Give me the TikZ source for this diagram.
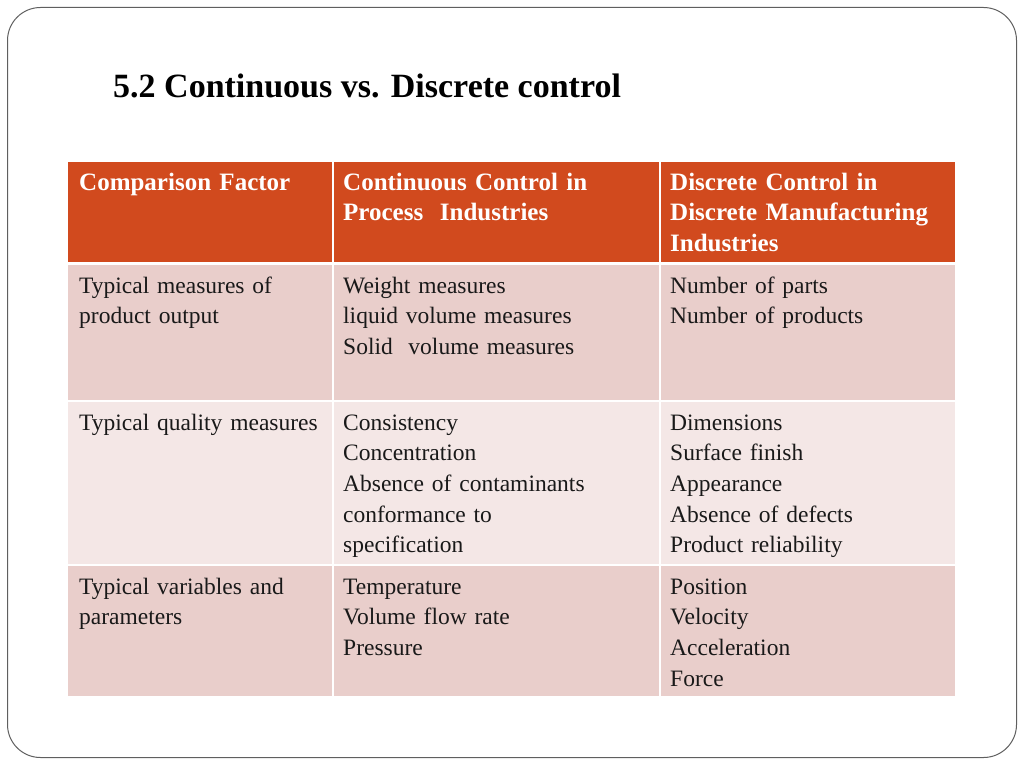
\documentclass[tikz,border=0pt]{standalone}
\usepackage{fontspec}
\setmainfont{Liberation Serif}
\usepackage{tikz}

\definecolor{headred}{HTML}{D14A1E}
\definecolor{rowdark}{HTML}{E9CECB}
\definecolor{rowlight}{HTML}{F4E7E6}
\definecolor{frame}{HTML}{5F5F5F}

\tikzset{
    cell/.style={anchor=base west, inner sep=0pt, text width=300pt, align=left,
        font=\fontsize{23.5}{30.7}\selectfont, text=black!90},
    headcell/.style={cell, font=\fontsize{25}{30.7}\selectfont\bfseries, text=white},
}

\begin{document}
\begin{tikzpicture}[x=1pt,y=-1pt]
    \useasboundingbox (0,0) rectangle (1024,768);
    \draw[color=frame, line width=1pt, rounded corners=33pt] (7.5,7.5) rectangle (1016.5,757.5);

    \node[anchor=base west, inner sep=0pt, font=\fontsize{34}{40}\selectfont\bfseries] (title) at (113,97) {5.2 Continuous vs. Discrete control};

    % rows
    \fill[headred] (68,162) rectangle (955,262);
    \fill[rowdark] (68,265) rectangle (955,400);
    \fill[rowlight] (68,402) rectangle (955,564);
    \fill[rowdark] (68,566) rectangle (955,696);
    \draw[white, line width=1.6pt] (333,162) -- (333,696);
    \draw[white, line width=1.6pt] (660,162) -- (660,696);

    % header
    \node[headcell] (hfactor) at (79,190) {Comparison Factor};
    \node[headcell] (hcont) at (343,190) {Continuous Control in\\Process~ Industries};
    \node[headcell] (hdisc) at (670,190) {Discrete Control in\\Discrete Manufacturing\\Industries};

    % output
    \node[cell] (outfactor) at (79,293) {Typical measures of\\product output};
    \node[cell] (outcont) at (343,293) {Weight measures\\liquid volume measures\\Solid~ volume measures};
    \node[cell] (outdisc) at (670,293) {Number of parts\\Number of products};

    % quality
    \node[cell] (qualfactor) at (79,430) {Typical quality measures};
    \node[cell] (qualcont) at (343,430) {Consistency\\Concentration\\Absence of contaminants\\conformance to\\specification};
    \node[cell] (qualdisc) at (670,430) {Dimensions\\Surface finish\\Appearance\\Absence of defects\\Product reliability};

    % variables
    \node[cell] (varfactor) at (79,594) {Typical variables and\\parameters};
    \node[cell] (varcont) at (343,594) {Temperature\\Volume flow rate\\Pressure};
    \node[cell] (vardisc) at (670,594) {Position\\Velocity\\Acceleration\\Force};
\end{tikzpicture}
\end{document}
